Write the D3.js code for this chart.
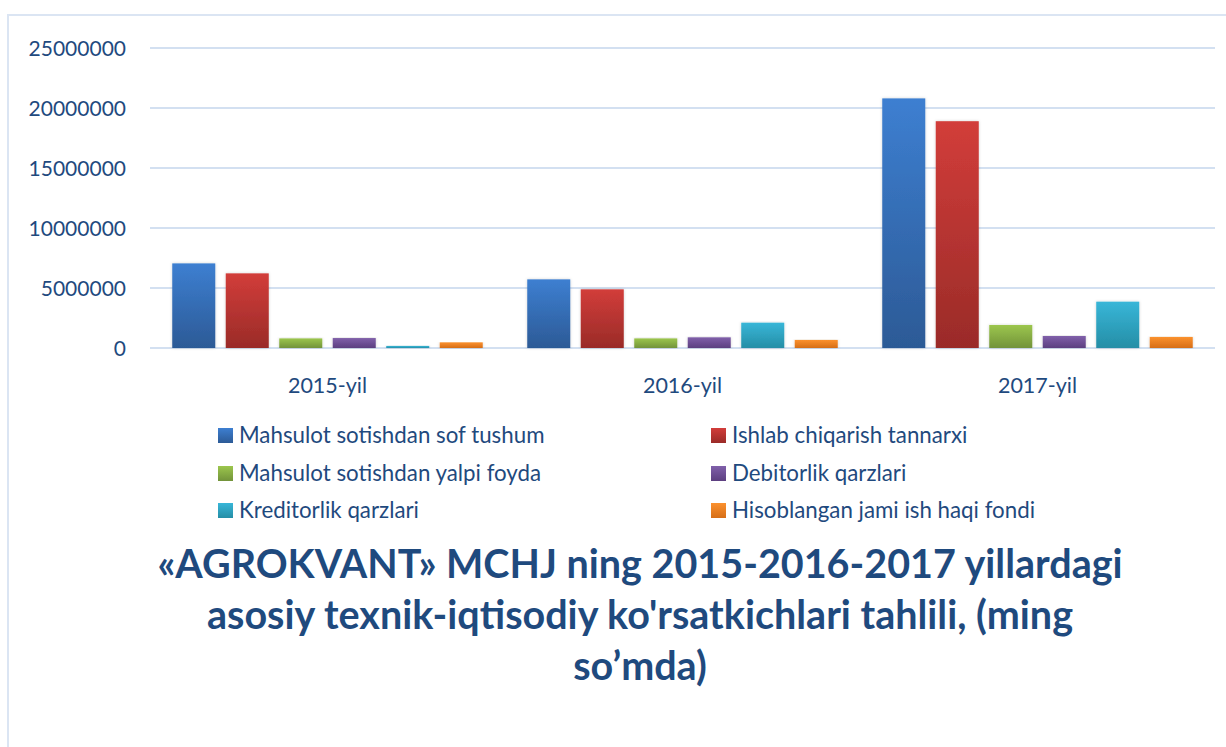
<!DOCTYPE html>
<html>
<head>
<meta charset="utf-8">
<title>AGROKVANT</title>
<style>
  body { margin: 0; background: #fff; }
  svg text { font-family: Lato, "Open Sans", sans-serif; fill: #1f4a7e; }
</style>
</head>
<body>
<div id="chart"></div>
<script src="https://cdn.jsdelivr.net/npm/d3@7"></script>
<script>
// data (ming so'm)
var years = ["2015-yil", "2016-yil", "2017-yil"];
var seriesNames = [
  "Mahsulot sotishdan sof tushum",
  "Ishlab chiqarish tannarxi",
  "Mahsulot sotishdan yalpi foyda",
  "Debitorlik qarzlari",
  "Kreditorlik qarzlari",
  "Hisoblangan jami ish haqi fondi"
];
var sofTushum   = [7050000, 5720000, 20800000];
var tannarx     = [6220000, 4890000, 18900000];
var yalpiFoyda  = [800000, 800000, 1920000];
var debitorlik  = [830000, 890000, 1000000];
var kreditorlik = [170000, 2110000, 3860000];
var ishHaqi     = [470000, 670000, 920000];
var yTicks = [0, 5000000, 10000000, 15000000, 20000000, 25000000];
var titleLines = [
  "«AGROKVANT» MCHJ ning 2015-2016-2017 yillardagi",
  "asosiy texnik-iqtisodiy ko'rsatkichlari tahlili, (ming",
  "so’mda)"
];

var seriesValues = [sofTushum, tannarx, yalpiFoyda, debitorlik, kreditorlik, ishHaqi];
var colors = [
  ["#3d7fd1", "#2c5a96"],
  ["#d23d3a", "#9a2b28"],
  ["#9cc64d", "#72933a"],
  ["#8060aa", "#5c3f80"],
  ["#38b6d8", "#258ea6"],
  ["#fb912e", "#d66e17"]
];

var W = 1226, H = 747;
var svg = d3.select("#chart").append("svg")
  .attr("width", W).attr("height", H);

var defs = svg.append("defs");
colors.forEach(function(c, i) {
  var g = defs.append("linearGradient")
    .attr("id", "grad" + i)
    .attr("x1", 0).attr("y1", 0).attr("x2", 0).attr("y2", 1);
  g.append("stop").attr("offset", "0%").attr("stop-color", c[0]);
  g.append("stop").attr("offset", "100%").attr("stop-color", c[1]);
});
var f = defs.append("filter").attr("id", "shadow")
  .attr("x", "-20%").attr("y", "-5%").attr("width", "140%").attr("height", "110%");
f.append("feDropShadow").attr("dx", 0).attr("dy", 0)
  .attr("stdDeviation", 1.5).attr("flood-color", "#000").attr("flood-opacity", 0.18);

// frame
svg.append("rect")
  .attr("x", 8).attr("y", 15).attr("width", W + 10).attr("height", H + 10)
  .attr("fill", "none").attr("stroke", "#dbe5f3").attr("stroke-width", 2);

var plotLeft = 150, plotRight = 1215, plotTop = 48, plotBottom = 348;

var x0 = d3.scaleBand().domain(years).range([plotLeft, plotRight]).paddingInner(0).paddingOuter(0);
var x1 = d3.scaleBand().domain(d3.range(seriesNames.length))
  .range([0, x0.bandwidth()]).paddingInner(0.196).paddingOuter(0.416);
var y = d3.scaleLinear().domain([0, 25000000]).range([plotBottom, plotTop]);

// gridlines
svg.append("g").selectAll("line")
  .data(yTicks)
  .enter().append("line")
  .attr("x1", plotLeft).attr("x2", plotRight)
  .attr("y1", function(d) { return y(d); })
  .attr("y2", function(d) { return y(d); })
  .attr("stroke", "#d3e0f1")
  .attr("stroke-width", 2);

// y axis labels
var yAxis = d3.axisLeft(y).tickValues(yTicks).tickSize(0).tickPadding(0)
  .tickFormat(function(d) { return String(d); });
var ya = svg.append("g").attr("transform", "translate(126,0)").call(yAxis);
ya.select(".domain").remove();
ya.selectAll("text")
  .attr("font-size", "21px")
  .attr("font-family", null)
  .attr("fill", null)
  .attr("dy", "0.36em");

// bars
var groups = svg.append("g").selectAll("g")
  .data(years)
  .enter().append("g")
  .attr("transform", function(d) { return "translate(" + x0(d) + ",0)"; });

groups.selectAll("rect")
  .data(function(d, i) {
    return seriesValues.map(function(vals, s) { return { s: s, v: vals[i] }; });
  })
  .enter().append("rect")
  .attr("x", function(d) { return x1(d.s); })
  .attr("width", x1.bandwidth())
  .attr("y", function(d) { return y(d.v); })
  .attr("height", function(d) { return y(0) - y(d.v); })
  .attr("fill", function(d) { return "url(#grad" + d.s + ")"; })
  .attr("filter", "url(#shadow)");

// category labels
var xAxis = d3.axisBottom(x0).tickSize(0).tickPadding(0);
var xa = svg.append("g").attr("transform", "translate(0,393)").call(xAxis);
xa.select(".domain").remove();
xa.selectAll("text")
  .attr("font-size", "21.5px")
  .attr("font-family", null)
  .attr("fill", null)
  .attr("dy", 0);

// legend
var legX = [218, 711], legY = [428, 466, 503];
var leg = svg.append("g").selectAll("g")
  .data(seriesNames)
  .enter().append("g")
  .attr("transform", function(d, i) {
    return "translate(" + legX[i % 2] + "," + legY[Math.floor(i / 2)] + ")";
  });
leg.append("rect")
  .attr("width", 15).attr("height", 15)
  .attr("fill", function(d, i) { return "url(#grad" + i + ")"; });
leg.append("text")
  .attr("x", 21).attr("y", 15)
  .attr("font-size", "22.3px")
  .text(function(d) { return d; });

// title
svg.append("g").selectAll("text")
  .data(titleLines)
  .enter().append("text")
  .attr("x", 640)
  .attr("y", function(d, i) { return 578 + i * 51; })
  .attr("text-anchor", "middle")
  .attr("font-size", "39.5px")
  .attr("font-weight", "bold")
  .text(function(d) { return d; });
</script>
</body>
</html>
